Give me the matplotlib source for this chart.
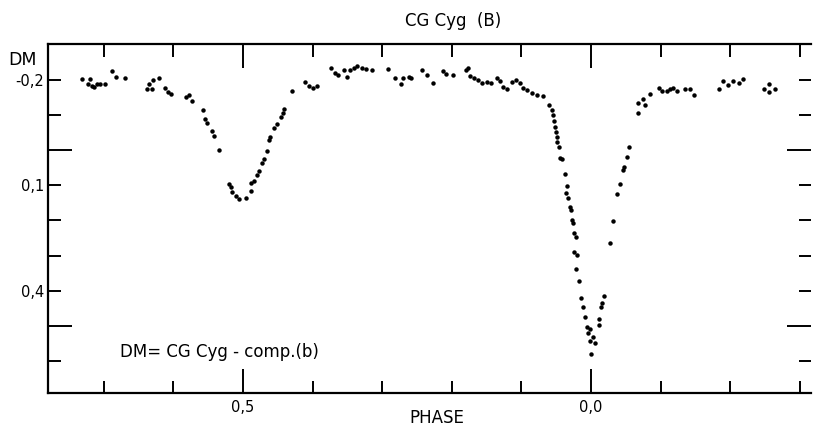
import matplotlib
matplotlib.use("Agg")
import matplotlib.pyplot as plt

# light curve of CG Cyg (phase, DM)
phase = [
    0.269, 0.280, 0.278, 0.283, 0.286, 0.290, 0.295, 0.302, 0.312, 0.317,
    0.331, 0.362, 0.365, 0.371, 0.379, 0.370, 0.388, 0.393, 0.396, 0.418,
    0.423, 0.427, 0.442, 0.445, 0.448, 0.455, 0.458, 0.466,
    0.480, 0.483, 0.485, 0.490, 0.495, 0.504, 0.511, 0.512, 0.516, 0.520,
    0.523, 0.528, 0.530, 0.534, 0.538, 0.539, 0.544, 0.549, 0.555, 0.557,
    0.559, 0.571, 0.589, 0.595, 0.601, 0.607, 0.627, 0.632, 0.637, 0.645,
    0.649,
    0.654, 0.659, 0.664, 0.671, 0.677, 0.685, 0.709, 0.718, 0.727, 0.730,
    0.738, 0.741, 0.757, 0.765, 0.773, 0.788, 0.792, 0.802, 0.821, 0.824,
    0.826, 0.832, 0.837, 0.844, 0.850, 0.857, 0.865, 0.869, 0.874, 0.879,
    0.886, 0.892, 0.898, 0.903, 0.908, 0.915, 0.922, 0.931,
    0.940, 0.944, 0.945, 0.947, 0.948, 0.950, 0.951, 0.951, 0.954, 0.955,
    0.959, 0.963, 0.965, 0.964, 0.967, 0.970, 0.971, 0.972, 0.974, 0.976,
    0.978, 0.976, 0.980, 0.979, 0.983, 0.986, 0.988, 0.991, 0.994, 0.998,
    0.995, 1.003, 0.999, 1.006, 1.000,
    1.011, 1.012, 1.015, 1.016, 1.019, 1.027, 1.032, 1.037, 1.041, 1.046,
    1.048, 1.051, 1.055, 1.067, 1.068, 1.074, 1.078, 1.085, 1.098, 1.102,
    1.109, 1.113, 1.118, 1.123, 1.135, 1.142, 1.148, 1.184, 1.189, 1.197,
    1.204, 1.212, 1.219, 1.249, 1.255, 1.256, 1.264,
]
dm = [
    -0.204, -0.203, -0.189, -0.183, -0.181, -0.189, -0.188, -0.189, -0.226, -0.209,
    -0.207, -0.174, -0.189, -0.200, -0.205, -0.174, -0.178, -0.165, -0.160, -0.151,
    -0.159, -0.141, -0.115, -0.088, -0.078, -0.055, -0.041, 0.000,
    0.096, 0.104, 0.118, 0.130, 0.140, 0.135, 0.115, 0.093, 0.087, 0.071,
    0.059, 0.037, 0.026, 0.001, -0.029, -0.037, -0.064, -0.075, -0.095, -0.105,
    -0.117, -0.169, -0.194, -0.183, -0.178, -0.184, -0.236, -0.219, -0.214, -0.228,
    -0.209,
    -0.228, -0.235, -0.241, -0.235, -0.233, -0.230, -0.231, -0.205, -0.188, -0.205,
    -0.209, -0.207, -0.228, -0.216, -0.191, -0.226, -0.217, -0.214, -0.228, -0.236,
    -0.212, -0.207, -0.200, -0.193, -0.195, -0.191, -0.207, -0.197, -0.181, -0.176,
    -0.195, -0.200, -0.191, -0.178, -0.172, -0.162, -0.159, -0.155,
    -0.129, -0.115, -0.100, -0.084, -0.067, -0.053, -0.038, -0.024, -0.008, 0.023,
    0.026, 0.068, 0.102, 0.123, 0.137, 0.161, 0.170, 0.199, 0.208, 0.237,
    0.246, 0.289, 0.299, 0.338, 0.373, 0.420, 0.448, 0.474, 0.503, 0.510,
    0.522, 0.531, 0.543, 0.550, 0.581,
    0.498, 0.482, 0.448, 0.436, 0.415, 0.264, 0.202, 0.125, 0.096, 0.056,
    0.047, 0.020, -0.008, -0.107, -0.136, -0.145, -0.129, -0.160, -0.178, -0.170,
    -0.170, -0.174, -0.178, -0.169, -0.176, -0.174, -0.157, -0.174, -0.198, -0.186,
    -0.197, -0.192, -0.202, -0.176, -0.189, -0.167, -0.176,
]

x_long = [0.5, 1.0]
x_long_labels = ["0,5", "0,0"]
x_short = [0.3, 0.4, 0.6, 0.7, 0.8, 0.9, 1.1, 1.2, 1.3]
y_long = [0.0, 0.5]
y_short = [-0.2, -0.1, 0.1, 0.2, 0.3, 0.4, 0.6]
y_short_labels = ["-0,2", "", "0,1", "", "", "0,4", ""]

plt.rcParams["font.family"] = ["DejaVu Sans"]

fig = plt.figure(figsize=(8.13, 4.33), dpi=100)
ax = fig.add_axes([48 / 813, 1 - 393 / 433, 763 / 813, 349 / 433])

ax.plot(phase, dm, "o", color="black", ms=3.2, mew=0)

ax.set_xlim(0.22, 1.316)
ax.set_ylim(0.692, -0.303)

ax.set_xticks(x_long, labels=x_long_labels)
ax.set_xticks(x_short, minor=True)
ax.set_yticks(y_long, labels=["", ""])
ax.set_yticks(y_short, labels=y_short_labels, minor=True)

ax.tick_params(axis="both", which="both", direction="in", width=1.4,
               top=True, right=True, labelsize=10.5, colors="black")
ax.tick_params(which="major", length=17)
ax.tick_params(which="minor", length=9)
ax.tick_params(axis="y", which="both", pad=3)
ax.tick_params(axis="x", which="both", pad=5)

for side in ["left", "top", "bottom"]:
    ax.spines[side].set_linewidth(1.6)
ax.spines["right"].set_visible(False)

fig.text(453 / 813, 1 - 21 / 433, "CG Cyg  (B)", ha="center", va="center", fontsize=12)
fig.text(8 / 813, 1 - 60 / 433, "DM", ha="left", va="center", fontsize=12.5)
fig.text(437 / 813, 1 - 418 / 433, "PHASE", ha="center", va="center", fontsize=12)
fig.text(120 / 813, 1 - 352 / 433, "DM= CG Cyg - comp.(b)", ha="left", va="center", fontsize=12)

fig.savefig("out.png", dpi=100)
